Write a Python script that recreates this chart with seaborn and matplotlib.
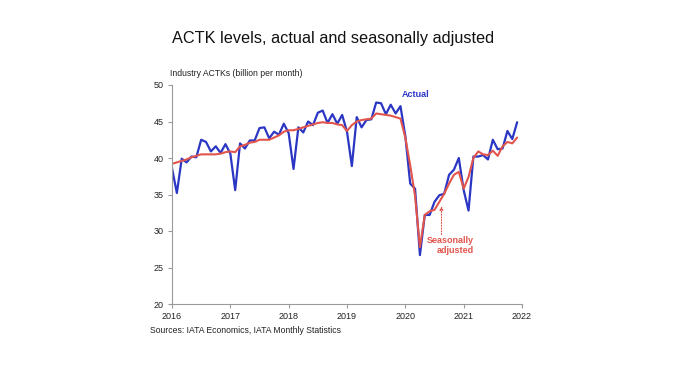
import seaborn as sns
import matplotlib.pyplot as plt
import pandas as pd
import numpy as np

# Monthly industry ACTKs (billion), Jan 2016 - Dec 2021
actual = [
    38.6, 35.2, 39.9, 39.4, 40.2, 40.1, 42.5, 42.2, 40.9, 41.6, 40.7, 41.9,
    40.6, 35.6, 42.0, 41.3, 42.4, 42.4, 44.1, 44.2, 42.7, 43.6, 43.2, 44.7,
    43.4, 38.5, 44.2, 43.5, 45.0, 44.5, 46.2, 46.5, 44.8, 46.0, 44.7, 45.9,
    43.6, 38.9, 45.6, 44.2, 45.2, 45.3, 47.6, 47.5, 46.0, 47.3, 46.1, 47.1,
    43.0, 36.5, 35.8, 26.7, 32.2, 32.2, 34.0, 34.9, 35.1, 37.7, 38.4, 40.0,
    35.6, 32.8, 40.2, 40.2, 40.4, 39.8, 42.5, 41.2, 41.3, 43.7, 42.6, 44.9,
]
seas_adj = [
    39.2, 39.4, 39.6, 39.8, 40.1, 40.3, 40.5, 40.5, 40.5, 40.5, 40.6, 40.8,
    40.9, 40.8, 41.6, 41.8, 42.1, 42.2, 42.5, 42.5, 42.5, 42.8, 43.1, 43.6,
    43.8, 43.8, 44.0, 44.2, 44.4, 44.6, 44.8, 44.9, 44.8, 44.8, 44.6, 44.5,
    43.7, 44.5, 45.0, 45.2, 45.3, 45.4, 46.1, 46.0, 45.9, 45.8, 45.6, 45.4,
    42.8, 39.0, 34.8, 27.8, 32.2, 32.7, 32.9, 34.0, 35.1, 36.5, 37.7, 38.1,
    35.8, 37.4, 40.0, 40.9, 40.5, 40.4, 41.0, 40.3, 41.6, 42.2, 42.0, 42.8,
]
years = [2016, 2017, 2018, 2019, 2020, 2021, 2022]
yticks = [20, 25, 30, 35, 40, 45, 50]

BLUE = "#2b37c4"
RED = "#e2554d"

months = pd.date_range("2016-01-01", periods=len(actual), freq="MS")
t = months.year + (months.month - 1) / 12
df = pd.DataFrame({"t": t, "Actual": actual, "Seasonally adjusted": seas_adj})

sns.set_theme(style="white")
plt.rcParams["font.family"] = ["Liberation Sans", "DejaVu Sans"]

fig = plt.figure(figsize=(7, 3.66), dpi=100)
ax = fig.add_axes([172 / 700, 1 - 304 / 366, 350 / 700, 219 / 366])

sns.lineplot(data=df, x="t", y="Actual", color=BLUE, lw=1.6, ax=ax)
sns.lineplot(data=df, x="t", y="Seasonally adjusted", color=RED, lw=1.5, ax=ax)

ax.set_xlim(2016, 2022)
ax.set_ylim(20, 50)
ax.set_xticks(years)
ax.set_xticklabels([str(y) for y in years])
ax.set_yticks(yticks)
ax.set_xlabel("")
ax.set_ylabel("")
for s in ["top", "right"]:
    ax.spines[s].set_visible(False)
for s in ["left", "bottom"]:
    ax.spines[s].set_color("#9a9a9a")
    ax.spines[s].set_linewidth(0.8)
ax.tick_params(axis="both", length=3, width=0.8, color="#9a9a9a",
               labelsize=6.5, labelcolor="#222222", pad=3)
ax.tick_params(axis="both", which="both", bottom=True, left=True, direction="out")

ax.text(2020.18, 48.4, "Actual", color=BLUE, fontsize=6.5, fontweight="bold",
        ha="center", va="baseline")
ax.text(2021.18, 29.3, "Seasonally\nadjusted", color=RED, fontsize=6.5,
        fontweight="bold", ha="right", va="top", multialignment="right",
        linespacing=1.15)
ax.annotate("", xy=(2020.62, 33.4), xytext=(2020.62, 29.5),
            arrowprops=dict(arrowstyle="-|>", linestyle=(0, (1, 1.5)), color=RED,
                            lw=0.8, mutation_scale=5, shrinkA=0, shrinkB=0))

fig.text(172 / 700, 1 - 43 / 366, "ACTK levels, actual and seasonally adjusted",
         fontsize=11.7, color="#111111", ha="left", va="baseline")
fig.text(170 / 700, 1 - 76 / 366, "Industry ACTKs (billion per month)",
         fontsize=6.2, color="#222222", ha="left", va="baseline")
fig.text(150 / 700, 1 - 333 / 366, "Sources: IATA Economics, IATA Monthly Statistics",
         fontsize=6.2, color="#222222", ha="left", va="baseline")

fig.savefig("out.png", dpi=100)
